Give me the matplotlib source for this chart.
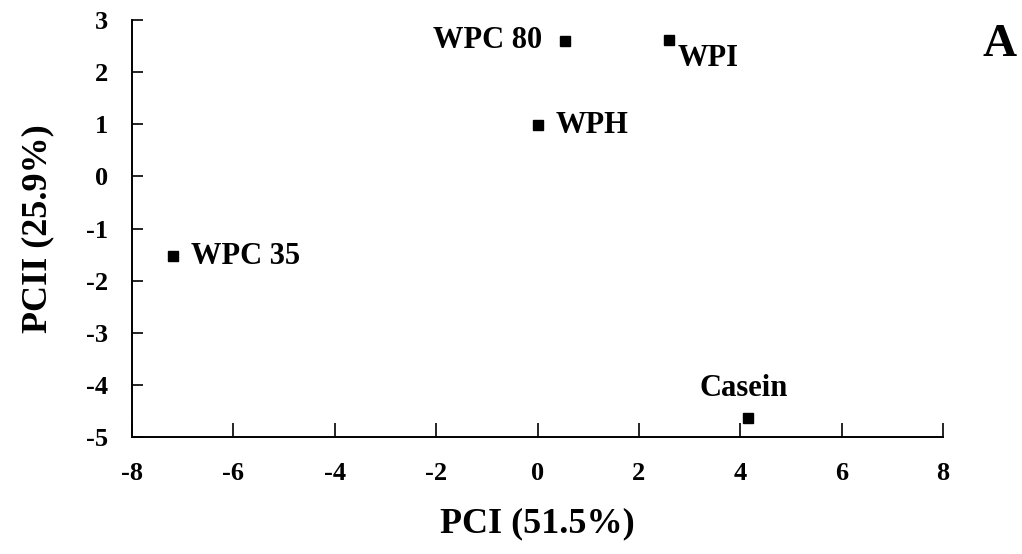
import matplotlib
matplotlib.use("Agg")
import matplotlib.pyplot as plt

# PCA scores for the protein samples
SAMPLES = ["WPC 80", "WPI", "WPH", "WPC 35", "Casein"]
PC1 = [0.55, 2.6, 0.0, -7.2, 4.15]
PC2 = [2.6, 2.62, 0.98, -1.53, -4.64]

X_TICKS = [-8, -6, -4, -2, 0, 2, 4, 6, 8]
Y_TICKS = [-5, -4, -3, -2, -1, 0, 1, 2, 3]

# label offsets in points and alignment for each sample
LABEL_POS = {
    "WPC 80": ((-17, 0), "right", "center"),
    "WPI": ((6, -3), "left", "top"),
    "WPH": ((13, 0), "left", "center"),
    "WPC 35": ((13, 0), "left", "center"),
    "Casein": ((-3, 11), "center", "bottom"),
}

plt.rcParams["font.family"] = "Liberation Serif"
plt.rcParams["font.weight"] = "bold"

fig = plt.figure(figsize=(10.22, 5.54), dpi=100)
ax = fig.add_axes([132 / 1022, 1 - 437 / 554, 811 / 1022, 417 / 554])

ax.plot(PC1, PC2, linestyle="none", marker="s", markersize=7, color="black")

for name, x, y in zip(SAMPLES, PC1, PC2):
    offset, ha, va = LABEL_POS[name]
    ax.annotate(name, (x, y), xytext=offset, textcoords="offset points",
                ha=ha, va=va, fontsize=22, fontweight="bold")

ax.set_xlim(-8, 8)
ax.set_ylim(-5, 3)
ax.set_xticks(X_TICKS)
ax.set_yticks(Y_TICKS)
ax.set_xticklabels([str(t) for t in X_TICKS])
ax.set_yticklabels([str(t) for t in Y_TICKS])

for side in ["top", "right"]:
    ax.spines[side].set_visible(False)
for side in ["left", "bottom"]:
    ax.spines[side].set_linewidth(1.4)

ax.tick_params(axis="x", direction="in", length=10, width=1.2, pad=18, labelsize=19)
ax.tick_params(axis="y", direction="in", length=8, width=1.2, pad=17, labelsize=19)

ax.set_xlabel("PCI (51.5%)", fontsize=26, fontweight="bold", labelpad=16)
ax.set_ylabel("PCII (25.9%)", fontsize=26, fontweight="bold", labelpad=23)

fig.text(1000 / 1022, 1 - 45 / 554, "A", fontsize=34, fontweight="bold",
         ha="center", va="center")

fig.savefig("out.png", dpi=100)
